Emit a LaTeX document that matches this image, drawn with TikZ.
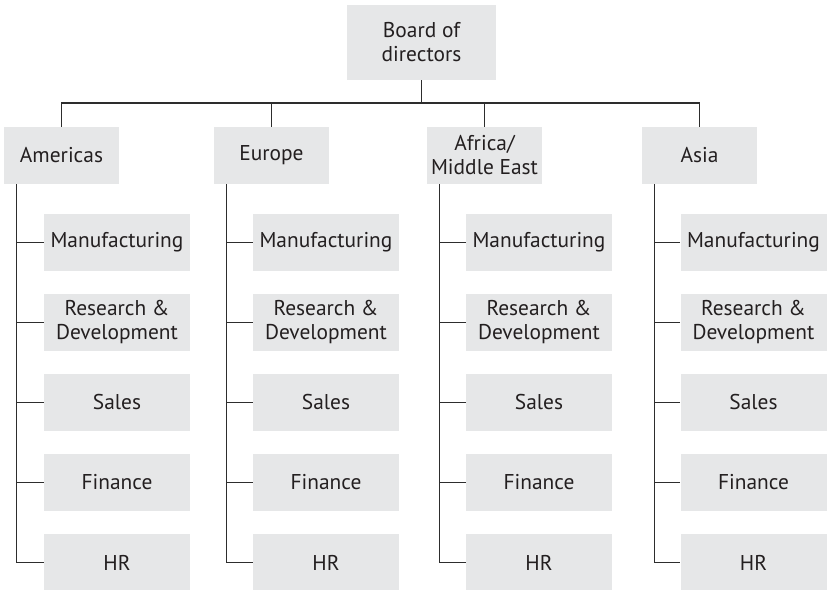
\documentclass[tikz,border=0pt]{standalone}
\usepackage{fontspec}
\setmainfont{PT Sans}
\usepackage{xcolor}
\usetikzlibrary{calc}
\definecolor{boxgrey}{RGB}{230,231,232}
\definecolor{linegrey}{RGB}{45,45,45}
\definecolor{textgrey}{RGB}{35,31,32}

\tikzset{
  unit/.style={fill=boxgrey,text=textgrey,align=center,inner sep=0pt,font=\fontsize{10.7}{12}\selectfont},
  region/.style={unit,minimum width=57.5pt,minimum height=28.5pt},
  dept/.style={unit,minimum width=73pt,minimum height=28.5pt},
  link/.style={linegrey,line width=0.6pt}
}

\begin{document}
\begin{tikzpicture}[x=0.5pt,y=-0.5pt]
        \useasboundingbox (0,0) rectangle (827,590);
        % board and regions
        \node[unit,minimum width=74.5pt,minimum height=37.5pt] (board) at (421.5,42.5) {Board of\\directors};
        \node[region] (am) at (61.5,155.5) {Americas};
        \node[region] (eu) at (271.5,155.5) {Europe};
        \node[region] (af) at (484.5,155.5) {Africa/\\Middle East};
        \node[region] (as) at (699.5,155.5) {Asia};
        \coordinate (bus) at (421.5,103);
        \draw[link] (board.south) -- (bus);
        \foreach \r in {am,eu,af,as}
            \draw[link] (\r.north) |- (bus);
        % departments of each region
        \foreach \r/\x in {am/117,eu/326,af/539,as/753.5} {
            \foreach \t [count=\i] in {Manufacturing,{Research \&\\Development},Sales,Finance,HR}
                \node[dept] (\r\i) at (\x,162.5+80*\i) {\t};
            \coordinate (\r t) at ($(\r.south west)+(12.5,0)$);
            \draw[link] (\r t) |- (\r5.west);
            \foreach \i in {1,...,4}
                \draw[link] (\r\i.west) -- (\r\i.west -| \r t);
        }
    \end{tikzpicture}
\end{document}
